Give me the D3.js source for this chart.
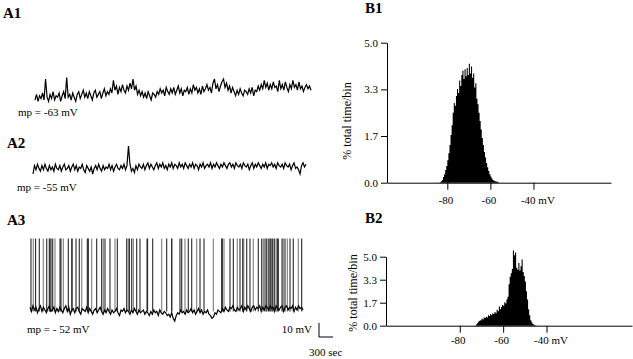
<!DOCTYPE html>
<html>
<head>
<meta charset="utf-8">
<script src="https://cdn.jsdelivr.net/npm/d3@7"></script>
<style>
  body { margin: 0; background: #fff; }
  svg { display: block; }
  svg text { font-family: "Liberation Serif", "Times New Roman", Times, serif; fill: #000; }
  .axis path, .axis line { stroke: #000; stroke-width: 1; }
  .axis text { font-size: 11px; }
  .panel { font-size: 15px; font-weight: bold; }
  .lbl { font-size: 11px; }
  .ylab { font-size: 12px; }
</style>
</head>
<body>
<script>
// recording length (sec) shared by A1-A3
var recordLen = 5850;

// membrane potential, deviation from mp (mV), evenly sampled over recordLen
var a1Mp = -63;
var a1Trace = [-5, -1, -6, -2, -4, 0, -5, 10, -3, -6,
  -1, -4, 1, -5, -2, -3, 0, -6, -2, 1,
  -4, 11, -3, -1, -5, 0, -3, -6, -1, 1,
  -4, -1, 2, -3, 0, -4, 1, -2, -5, 0,
  2, -3, -1, 1, -4, 0, 3, -2, 1, -1,
  3, 0, 9, 2, 5, -1, 4, 1, 6, 2,
  0, 5, 2, 7, 3, 10, 2, 5, -1, 2,
  -2, 1, -3, 0, -4, 1, -2, -5, 0, -1,
  -3, 1, -1, 3, 0, 2, -2, 4, 1, -1,
  3, 0, 4, -1, 2, 5, 0, 3, -2, 2,
  1, 4, -1, 3, 0, 6, 2, 4, 0, 3,
  -1, 5, 1, 3, 6, 2, 4, 0, 7, 10,
  3, 6, 1, 5, 8, 10, 4, 7, 2, 5,
  0, 4, 1, -2, 2, -1, 3, 0, -2, 2,
  1, -1, 3, 0, 4, -2, 2, 1, 5, 2,
  6, 3, 9, 4, 7, 2, 6, 3, 8, 4,
  5, 1, 9, 3, 6, 2, 8, 4, 1, 6,
  3, 9, 4, 6, 2, 8, 3, 5, 1, 4,
  6, 3, 5, 2];

var a2Mp = -55;
var a2Trace = [-5, 1, -2, 2, -1, -3, 1, -2, 2, -1,
  -3, 1, -2, 0, -3, 2, -1, -2, 1, -3,
  0, 2, -2, -1, 1, -3, 0, 2, -2, 1,
  -3, 0, -1, 2, -2, -4, 1, -1, -3, 0,
  -5, -1, 1, -2, 2, -1, -3, 1, -2, 0,
  -1, 2, -2, 1, -3, 0, 2, -1, -2, 1,
  -1, 2, -2, 1, 15, 2, -3, -1, -4, 1,
  -2, 2, 0, -1, 2, -2, 1, 3, -1, 2,
  0, -2, 1, 3, -1, 2, 0, 3, -1, 1,
  -2, 2, 0, 3, -1, 2, 1, -1, 3, 0,
  2, -1, 3, 1, -1, 2, 0, 3, -1, 2,
  1, -2, 2, 0, 3, -1, 1, 2, 0, 3,
  -1, 2, 0, 3, 1, -1, 2, 0, 3, 1,
  -1, 2, 3, 0, 2, -1, 3, 1, 0, 2,
  -1, 3, 1, 0, 2, -2, 1, 3, -1, 2,
  0, 3, 1, -1, 2, 0, 3, -1, 2, 1,
  3, 0, 2, -1, 3, 1, 0, 2, -1, 3,
  1, 0, 2, -2, 1, 3, -1, 0, -2, -5,
  1, 3, 0, 2];

var a3Mp = -52;
var a3Trace = [2, -1, 3, 0, 2, -2, 1, 3, -1, 2,
  0, -2, 1, 3, -1, 0, 2, -2, 1, -1,
  2, 0, -2, 1, 3, -1, 2, -3, 0, 1,
  -2, 1, 2, -1, -3, 1, 0, -1, 2, -2,
  1, -1, -3, 0, 1, -2, 0, 2, -1, -3,
  0, -2, 1, -1, -3, 0, -2, -1, 1, -2,
  -4, 0, -1, 1, -2, 0, -1, -3, 0, -2,
  1, -1, -3, 0, -2, -1, 0, -3, -1, -2,
  -4, -1, -3, 0, -2, -1, -4, 0, -2, -3,
  -1, -2, -4, -3, -5, -2, -6, -8, -4, -2,
  -3, 0, -2, -1, -3, 0, -2, -1, 1, -2,
  0, -3, -1, 1, -2, 0, -3, -1, -2, 0,
  -3, -4, -6, -5, -2, -3, 0, -1, -2, 1,
  -1, 2, 0, -1, 2, 1, 3, 0, -1, 2,
  0, 1, 3, -1, 2, 0, 3, 1, -1, 2,
  3, 0, 2, 1, 3, -1, 2, 0, 3, 2,
  0, 3, 1, 2, -1, 3, 1, 0, 2, 3,
  -1, 2, 3, 0, 2, 1, 3, -1, 2, 0,
  3, 1, 2, 0];
// spike times (sec) and peak potential (mV)
var a3Spikes = [21, 71, 120, 199, 285, 358, 414, 429, 450, 486, 536, 643, 664, 714, 821,
  894, 910, 986, 1056, 1108, 1228, 1250, 1322, 1429, 1536, 1571, 1607, 1714, 1821, 1871,
  2072, 2106, 2130, 2179, 2214, 2286, 2357, 2501, 2520, 2629, 2822, 2929, 3036, 3040,
  3214, 3251, 3321, 3392, 3465, 3572, 3643, 3729, 3928, 4108, 4120, 4157, 4286, 4357,
  4442, 4500, 4558, 4580, 4644, 4714, 4785, 4892, 4965, 5000, 5036, 5072, 5107, 5125,
  5158, 5180, 5201, 5235, 5272, 5300, 5321, 5394, 5420, 5464, 5514, 5572, 5642, 5750, 5822];
var spikePeak = -1;

// membrane potential histograms, 0.5 mV bins (% total time per bin)
var binWidth = 0.5;
var b1Start = -83.5;
var b1Vals = [0.02, 0.05, 0.1, 0.2, 0.3, 0.45, 0.6, 0.8, 1.05, 1.35, 1.7, 2.05, 2.5, 2.85,
  2.75, 3.1, 3.35, 3.2, 3.65, 3.45, 3.85, 4.0, 3.7, 4.05, 3.8, 4.1, 3.85, 4.25, 3.9, 4.15,
  3.75, 3.9, 3.4, 3.55, 3.0, 2.8, 2.5, 2.2, 1.9, 1.6, 1.35, 1.1, 0.9, 0.7, 0.55, 0.42,
  0.3, 0.22, 0.15, 0.1, 0.07, 0.05, 0.04, 0.03, 0.02];
var b2Start = -73;
var b2Vals = [0.02, 0.08, 0.2, 0.3, 0.35, 0.4, 0.5, 0.45, 0.6, 0.55, 0.65, 0.6, 0.75, 0.7,
  0.85, 0.75, 0.9, 0.85, 1.0, 0.9, 1.15, 1.05, 1.4, 1.2, 1.35, 1.5, 1.45, 1.7, 1.6, 1.9,
  2.1, 3.0, 3.55, 3.8, 4.1, 5.45, 5.1, 5.3, 4.2, 4.05, 4.55, 4.0, 4.3, 4.8, 3.9, 3.6,
  3.2, 2.5, 1.9, 1.2, 0.75, 0.4, 0.25, 0.12, 0.06, 0.03, 0.02];

var yTickVals = [0, 5 / 3, 10 / 3, 5];
var yTickLabels = ["0.0", "1.7", "3.3", "5.0"];
var xTickVals = [-80, -60, -40];
var xTickLabels = ["-80", "-60", "-40 mV"];

var W = 633, H = 359;
var svg = d3.select("body").append("svg")
  .attr("width", W).attr("height", H);
svg.append("rect").attr("width", W).attr("height", H).attr("fill", "#fff");

// ---- traces ----
function drawTrace(trace, mp, x0, x1, yc) {
  var x = d3.scaleLinear().domain([0, recordLen]).range([x0, x1]);
  var y = d3.scaleLinear().domain([mp - 10, mp + 10]).range([yc + 14, yc - 14]);
  var dt = recordLen / (trace.length - 1);
  var line = d3.line()
    .x(function(d, i) { return x(i * dt); })
    .y(function(d) { return y(mp + d); });
  svg.append("path")
    .datum(trace)
    .attr("d", line)
    .attr("fill", "none")
    .attr("stroke", "#000")
    .attr("stroke-width", 1.2);
  return {x: x, y: y};
}

var s1 = drawTrace(a1Trace, a1Mp, 35, 311, 93);
var s2 = drawTrace(a2Trace, a2Mp, 33, 306, 167);
var s3 = drawTrace(a3Trace, a3Mp, 30, 303, 310);

svg.selectAll(".spike")
  .data(a3Spikes)
  .enter().append("line")
  .attr("class", "spike")
  .attr("x1", function(d) { return s3.x(d); })
  .attr("x2", function(d) { return s3.x(d); })
  .attr("y1", s3.y(a3Mp - 1))
  .attr("y2", s3.y(spikePeak))
  .attr("stroke", "#111")
  .attr("stroke-width", 1.1)
  .attr("stroke-opacity", function(d, i) { return i % 3 == 1 ? 0.55 : 0.9; });

// scale bar: 10 mV / 300 sec
var sbX = 319, sbY = 337;
var sbH = s3.y(0) - s3.y(10);
var sbW = s3.x(300) - s3.x(0);
svg.append("path")
  .attr("d", "M" + sbX + "," + (sbY - sbH) + "V" + sbY + "H" + (sbX + sbW))
  .attr("fill", "none").attr("stroke", "#000").attr("stroke-width", 1);
svg.append("text").attr("class", "lbl").attr("x", 312).attr("y", 333)
  .attr("text-anchor", "end").text("10 mV");
svg.append("text").attr("class", "lbl").attr("x", 309).attr("y", 356).text("300 sec");

svg.append("text").attr("class", "lbl").attr("x", 18).attr("y", 116).text("mp = -63 mV");
svg.append("text").attr("class", "lbl").attr("x", 17).attr("y", 191).text("mp = -55 mV");
svg.append("text").attr("class", "lbl").attr("x", 27).attr("y", 333).text("mp = - 52 mV");

// ---- histograms ----
function drawHist(vals, start, xDom, xRng, yRng, labelPad, ylab) {
  var x = d3.scaleLinear().domain(xDom).range(xRng);
  var y = d3.scaleLinear().domain([0, 5]).range(yRng);
  var g = svg.append("g");

  var pts = vals.map(function(v, i) { return [start + i * binWidth, v]; });
  pts.push([start + vals.length * binWidth, vals[vals.length - 1]]);
  var area = d3.area()
    .curve(d3.curveStepAfter)
    .x(function(d) { return x(d[0]); })
    .y0(y(0))
    .y1(function(d) { return y(d[1]); });
  g.append("path").datum(pts).attr("d", area).attr("fill", "#000");

  g.append("g").attr("class", "axis")
    .attr("transform", "translate(0," + yRng[0] + ")")
    .call(d3.axisBottom(x).tickValues(xTickVals).tickSize(7).tickPadding(labelPad)
      .tickSizeOuter(0).tickFormat(function(d, i) { return xTickLabels[i]; }))
    .selectAll(".tick text")
    .attr("text-anchor", function(d, i) { return i == 2 ? "start" : "middle"; })
    .attr("dx", function(d, i) { return i == 2 ? -13 : -2; });

  g.append("g").attr("class", "axis")
    .attr("transform", "translate(" + xRng[0] + ",0)")
    .call(d3.axisLeft(y).tickValues(yTickVals).tickSize(6).tickPadding(3)
      .tickSizeOuter(0).tickFormat(function(d, i) { return yTickLabels[i]; }));

  svg.append("text").attr("class", "ylab")
    .attr("transform", "translate(" + ylab[0] + "," + ylab[1] + ") rotate(-90)")
    .attr("text-anchor", "middle").attr("dy", "0.35em")
    .text("% total time/bin");
}

drawHist(b1Vals, b1Start, [-108, -4], [387, 611], [182.7, 42.7], 7, [347, 121]);
drawHist(b2Vals, b2Start, [-114, -0.6], [386, 632], [325.7, 256.7], 4, [353, 293]);

// panel letters
var panels = [["A1", 3, 18], ["A2", 7, 148], ["A3", 7, 225], ["B1", 365, 13], ["B2", 365, 223]];
svg.selectAll(".panel")
  .data(panels)
  .enter().append("text")
  .attr("class", "panel")
  .attr("x", function(d) { return d[1]; })
  .attr("y", function(d) { return d[2]; })
  .text(function(d) { return d[0]; });
</script>
</body>
</html>
